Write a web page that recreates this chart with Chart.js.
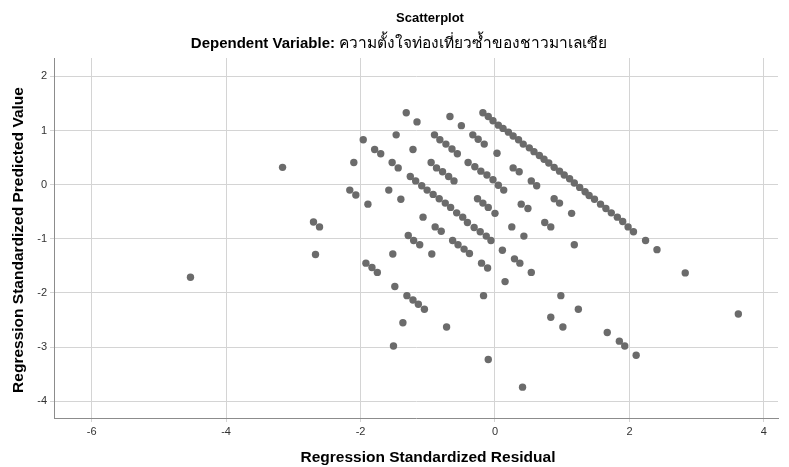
<!DOCTYPE html>
<html><head><meta charset="utf-8">
<script src="https://cdn.jsdelivr.net/npm/chart.js@4.4.1/dist/chart.umd.min.js"></script>
<style>html,body{margin:0;padding:0;background:#fff}#wrap{width:789px;height:467px;position:relative}</style>
</head><body><div id="wrap"><canvas id="c" width="789" height="467"></canvas></div>
<script>
const chartTitle = 'Scatterplot';
const subtitleLabel = 'Dependent Variable: ';
const subtitleValue = 'ความตั้งใจท่องเที่ยวซ้ำของชาวมาเลเซีย';
const xAxisTitle = 'Regression Standardized Residual';
const yAxisTitle = 'Regression Standardized Predicted Value';
const xTickValues = [-6, -4, -2, 0, 2, 4];
const yTickValues = [2, 1, 0, -1, -2, -3, -4];

const residual = [
  -0.18,-0.10,-0.03,0.05,0.12,0.20,0.27,0.35,0.42,0.51,0.58,0.66,0.73,0.80,0.88,0.96,1.03,1.11,1.18,1.26,1.34,1.40,1.48,1.57,1.65,1.73,1.82,1.90,1.98,2.06,2.24,2.41,2.83,3.62,
  -1.32,-1.16,-0.67,-0.50,-1.96,-1.47,-0.90,-0.82,-0.73,-0.64,-0.56,-1.79,-1.70,-1.22,-0.40,-2.10,-1.53,-1.44,-0.95,-0.87,-0.78,-0.69,-0.61,-1.26,-1.18,-1.09,-1.01,-0.92,-0.83,-0.74,-0.66,-2.16,-2.07,-1.58,-1.40,-1.89,
  -0.33,-0.25,-0.16,0.03,-0.30,-0.21,-0.12,-0.03,0.05,0.13,0.27,0.36,0.54,0.62,-0.26,-0.18,-0.10,0.39,0.88,0.96,
  -0.57,-0.48,-0.41,-1.07,-0.89,-0.80,-1.29,-1.21,-1.12,-0.63,-0.55,-0.46,-0.38,-1.52,-0.94,-1.92,-1.83,-1.75,-1.49,-1.31,-1.22,-1.14,-1.05,
  0.00,-0.31,-0.22,-0.13,-0.06,0.49,1.14,0.25,0.43,0.74,0.83,1.18,0.11,-0.20,-0.11,0.29,0.37,0.54,0.15,-0.17,0.98,1.24,0.83,
  -1.37,-1.51,-0.72,-0.10,0.41,1.01,1.67,1.85,1.93,2.10,
  -3.16,-2.70,-2.61,-2.67,-4.53
];
const predicted = [
  1.33,1.26,1.18,1.10,1.04,0.97,0.90,0.83,0.75,0.68,0.61,0.54,0.47,0.40,0.32,0.25,0.18,0.11,0.03,-0.05,-0.13,-0.20,-0.27,-0.36,-0.44,-0.52,-0.60,-0.68,-0.78,-0.87,-1.03,-1.20,-1.63,-2.39,
  1.33,1.16,1.26,1.09,0.83,0.92,0.92,0.83,0.75,0.66,0.57,0.65,0.57,0.65,0.41,0.41,0.41,0.31,0.41,0.31,0.24,0.15,0.07,0.15,0.07,-0.02,-0.10,-0.18,-0.26,-0.34,-0.42,-0.10,-0.19,-0.10,-0.27,-0.36,
  0.92,0.84,0.75,0.58,0.33,0.25,0.18,0.09,-0.01,-0.10,0.31,0.24,0.07,-0.02,-0.26,-0.34,-0.42,-0.36,-0.26,-0.34,
  -0.52,-0.60,-0.70,-0.60,-0.78,-0.86,-0.94,-1.03,-1.11,-1.03,-1.11,-1.19,-1.27,-1.28,-1.28,-1.45,-1.53,-1.62,-1.88,-2.05,-2.13,-2.21,-2.30,
  -0.53,-0.79,-0.87,-0.95,-1.03,-0.44,-0.53,-0.78,-0.95,-0.70,-0.78,-1.11,-1.21,-1.45,-1.54,-1.37,-1.45,-1.62,-1.79,-2.05,-2.05,-2.30,-2.45,
  -2.55,-2.98,-2.63,-3.23,-3.74,-2.63,-2.73,-2.89,-2.98,-3.15,
  0.32,-0.69,-0.78,-1.29,-1.71
];

const points = residual.map((x, i) => ({ x: x, y: predicted[i] }));
const FONT = '"Liberation Sans", Arial, "Noto Sans", sans-serif';
const THAI = '"Liberation Sans", "DejaVu Sans", "Noto Sans", sans-serif';

const titlesPlugin = {
  id: 'titles',
  afterDraw(chart) {
    const ctx = chart.ctx;
    ctx.save();
    ctx.fillStyle = '#000';
    ctx.textBaseline = 'middle';
    ctx.font = 'bold 13px ' + FONT;
    ctx.textAlign = 'center';
    ctx.fillText(chartTitle, 430, 18);
    ctx.textAlign = 'left';
    ctx.font = 'bold 15px ' + FONT;
    const w1 = ctx.measureText(subtitleLabel).width;
    ctx.font = '15.5px ' + THAI;
    const w2 = ctx.measureText(subtitleValue).width;
    const sx = 399 - (w1 + w2) / 2;
    ctx.font = 'bold 15px ' + FONT;
    ctx.fillText(subtitleLabel, sx, 44);
    ctx.font = '15.5px ' + THAI;
    ctx.fillText(subtitleValue, sx + w1, 44);
    ctx.font = 'bold 15.5px ' + FONT;
    ctx.textAlign = 'center';
    ctx.fillText(xAxisTitle, 428, 458);
    ctx.translate(19, 240);
    ctx.rotate(-Math.PI / 2);
    ctx.fillText(yAxisTitle, 0, 0);
    ctx.restore();
  }
};

new Chart(document.getElementById('c'), {
  type: 'scatter',
  data: { datasets: [{ data: points, backgroundColor: '#6b6b6b', borderWidth: 0, pointRadius: 3.7, pointHoverRadius: 3.7 }] },
  options: {
    responsive: false, animation: false, devicePixelRatio: 1,
    layout: { padding: { top: 58, right: 11, left: 0, bottom: 0 } },
    plugins: { legend: { display: false }, tooltip: { enabled: false } },
    scales: {
      x: {
        type: 'linear', min: -6.56, max: 4.21,
        afterFit: s => { s.height = 49; },
        afterBuildTicks: s => { s.ticks = xTickValues.map(v => ({ value: v })); },
        ticks: { font: { family: FONT, size: 11 }, color: '#333', padding: 3, maxRotation: 0 },
        grid: { color: '#d4d4d4', lineWidth: 1, tickLength: 4 },
        border: { color: '#8c8c8c', width: 1 }
      },
      y: {
        type: 'linear', min: -4.31, max: 2.34,
        afterFit: s => { s.width = 54; },
        afterBuildTicks: s => { s.ticks = yTickValues.map(v => ({ value: v })); },
        ticks: { font: { family: FONT, size: 11 }, color: '#333', padding: 3 },
        grid: { color: '#d4d4d4', lineWidth: 1, tickLength: 4 },
        border: { color: '#8c8c8c', width: 1 }
      }
    }
  },
  plugins: [titlesPlugin]
});
</script></body></html>
